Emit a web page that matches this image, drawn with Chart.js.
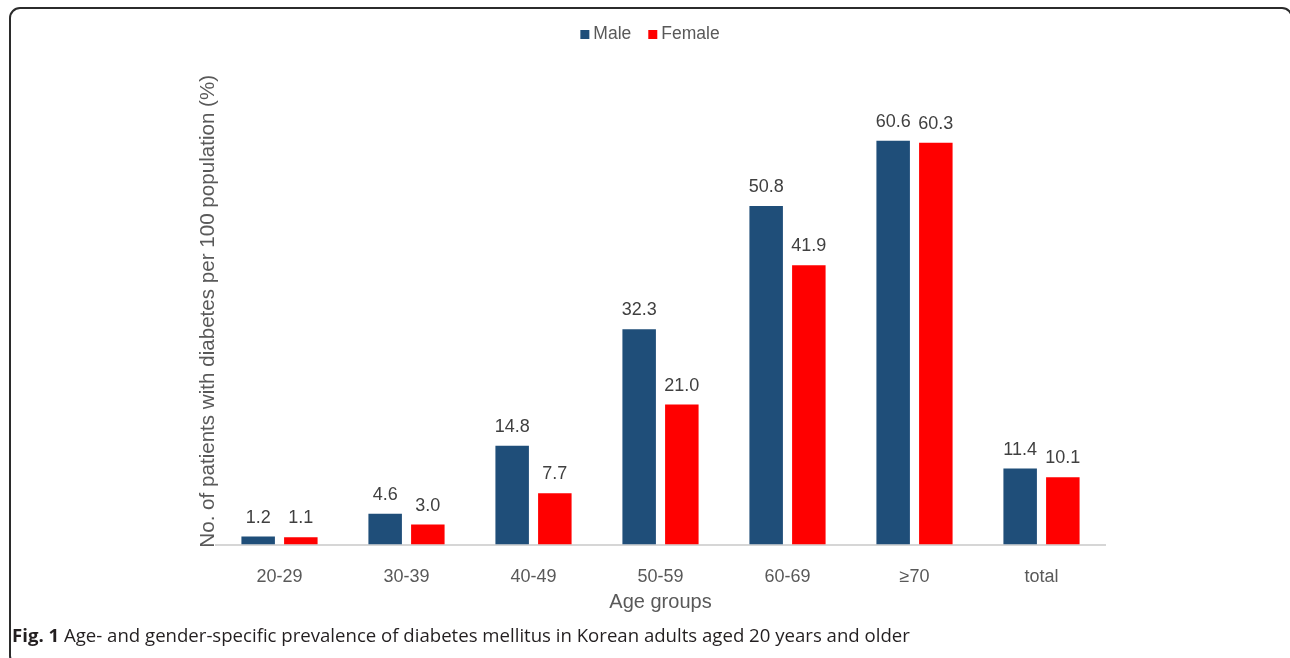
<!DOCTYPE html>
<html>
<head>
<meta charset="utf-8">
<script src="https://cdn.jsdelivr.net/npm/chart.js@4.4.1/dist/chart.umd.min.js"></script>
<style>
  html, body { margin: 0; padding: 0; background: #fff; }
  #wrap { position: relative; width: 1290px; height: 658px; overflow: hidden; }
  #cv { position: absolute; left: 0; top: 0; }
  #frame {
    position: absolute; left: 9px; top: 7px; width: 1284px; height: 660px;
    border: 2px solid #2b2b2b; border-radius: 11px; box-sizing: border-box;
    pointer-events: none;
  }
  #caption {
    position: absolute; left: 12px; top: 622px;
    font-family: "Open Sans", sans-serif; font-size: 18.6px; color: #231f20;
    white-space: nowrap;
  }
  #caption b { font-weight: 700; }
</style>
</head>
<body>
<div id="wrap">
  <canvas id="cv" width="1290" height="658"></canvas>
  <div id="frame"></div>
  <div id="caption"><b>Fig. 1</b> Age- and gender-specific prevalence of diabetes mellitus in Korean adults aged 20 years and older</div>
</div>
<script>
// Prevalence of diabetes (per 100 population) by age group and sex
const ageGroups = ['20-29', '30-39', '40-49', '50-59', '60-69', '\u226570', 'total'];
const maleRates = [1.2, 4.6, 14.8, 32.3, 50.8, 60.6, 11.4];
const femaleRates = [1.1, 3.0, 7.7, 21.0, 41.9, 60.3, 10.1];
const seriesNames = ['Male', 'Female'];
const seriesColors = ['#1f4e79', '#ff0000'];

const FONT = '"Liberation Sans", Arial, sans-serif';

// Simple horizontal legend: small square swatch, tight gap, label
const legendPlugin = {
  id: 'squareLegend',
  afterDraw(chart) {
    const ctx = chart.ctx;
    const box = 9, gap = 4, itemGap = 17, fontSize = 17.5;
    ctx.save();
    ctx.font = fontSize + 'px ' + FONT;
    ctx.textBaseline = 'middle';
    ctx.textAlign = 'left';
    const items = chart.data.datasets.map(ds => ({
      label: ds.label, color: ds.backgroundColor, w: ctx.measureText(ds.label).width
    }));
    let total = 0;
    items.forEach((it, i) => { total += box + gap + it.w + (i ? itemGap : 0); });
    let x = 650 - total / 2;
    const y = 34.5;
    items.forEach((it, i) => {
      if (i) x += itemGap;
      ctx.fillStyle = it.color;
      ctx.fillRect(x, y - box / 2, box, box);
      ctx.fillStyle = '#595959';
      ctx.fillText(it.label, x + box + gap, y);
      x += box + gap + it.w;
    });
    ctx.restore();
  }
};

// Value labels above each bar
const valueLabels = {
  id: 'valueLabels',
  afterDatasetsDraw(chart) {
    const ctx = chart.ctx;
    ctx.save();
    ctx.font = '18px ' + FONT;
    ctx.fillStyle = '#404040';
    ctx.textAlign = 'center';
    ctx.textBaseline = 'alphabetic';
    chart.data.datasets.forEach((ds, di) => {
      const meta = chart.getDatasetMeta(di);
      meta.data.forEach((bar, i) => {
        ctx.fillText(ds.data[i].toFixed(1), bar.x, bar.y - 14);
      });
    });
    ctx.restore();
  }
};

new Chart(document.getElementById('cv'), {
  type: 'bar',
  data: {
    labels: ageGroups,
    datasets: [
      { label: seriesNames[0], data: maleRates, backgroundColor: seriesColors[0] },
      { label: seriesNames[1], data: femaleRates, backgroundColor: seriesColors[1] }
    ]
  },
  options: {
    responsive: false,
    animation: false,
    devicePixelRatio: 1,
    categoryPercentage: 0.672,
    barPercentage: 0.785,
    layout: { padding: { left: 192, right: 185, top: 78, bottom: 43.5 } },
    plugins: {
      legend: { display: false },
      tooltip: { enabled: false }
    },
    scales: {
      x: {
        grid: { display: false },
        border: { display: true, color: '#d6d6d6', width: 2 },
        ticks: { color: '#595959', font: { family: FONT, size: 18 }, padding: 14 },
        title: {
          display: true, text: 'Age groups', color: '#595959',
          font: { family: FONT, size: 20 }, padding: { top: 0, bottom: 0 }
        },
        afterFit(scale) { scale.height = 70; }
      },
      y: {
        min: 0, max: 70,
        grid: { display: false },
        border: { display: false },
        ticks: { display: false },
        title: {
          display: true, text: 'No. of patients with diabetes per 100 population (%)',
          color: '#595959', font: { family: FONT, size: 20.6 }, padding: { top: 4, bottom: 4 }
        },
        afterFit(scale) { scale.width = 24; }
      }
    }
  },
  plugins: [legendPlugin, valueLabels]
});
</script>
</body>
</html>
